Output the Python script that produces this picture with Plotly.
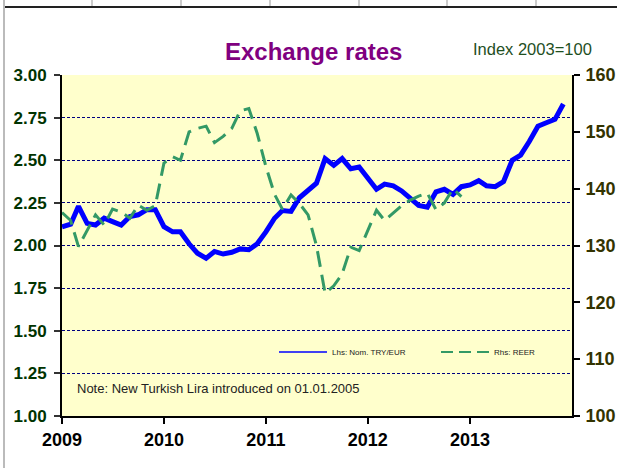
import plotly.graph_objects as go
import pandas as pd

# ---- data ----
months_try = pd.date_range("2009-01-01", periods=60, freq="MS")
try_eur = [2.11, 2.125, 2.23, 2.13, 2.12, 2.16, 2.14, 2.12, 2.17, 2.18, 2.21, 2.21,
           2.11, 2.08, 2.08, 2.01, 1.955, 1.925, 1.965, 1.95, 1.96, 1.98, 1.975, 2.01,
           2.08, 2.16, 2.205, 2.20, 2.28, 2.32, 2.365, 2.51, 2.47, 2.51, 2.45, 2.46,
           2.39, 2.33, 2.36, 2.35, 2.32, 2.28, 2.235, 2.225, 2.315, 2.33, 2.30, 2.345,
           2.355, 2.38, 2.35, 2.345, 2.375, 2.50, 2.53, 2.61, 2.70, 2.72, 2.74, 2.83]

months_reer = pd.date_range("2009-01-01", periods=48, freq="MS")
reer = [135.8, 134.4, 129.8, 132.6, 135.4, 133.6, 136.4, 135.9, 134.8, 137.1, 136.2, 137.0,
        144.5, 145.6, 145.0, 150.0, 150.6, 151.0, 148.1, 149.2, 150.6, 153.7, 154.1, 149.7,
        143.9, 139.0, 136.4, 138.9, 137.4, 135.4, 130.0, 121.6, 122.9, 125.0, 129.7, 129.1,
        132.5, 136.2, 134.4, 135.8, 137.0, 138.0, 138.7, 139.2, 136.3, 137.5, 140.0, 138.6]

year_ticks = ["2009-01-01", "2010-01-01", "2011-01-01", "2012-01-01", "2013-01-01"]
year_labels = ["2009", "2010", "2011", "2012", "2013"]
left_ticks = [1.00, 1.25, 1.50, 1.75, 2.00, 2.25, 2.50, 2.75, 3.00]
right_ticks = [100, 110, 120, 130, 140, 150, 160]

series_names = ["Lhs: Nom. TRY/EUR", "Rhs: REER"]
title_text = "Exchange rates"
index_text = "Index 2003=100"
note_text = "Note: New Turkish Lira introduced on 01.01.2005"

# ---- figure ----
W, H = 617, 468
L, R, T, B = 62, 45, 75, 52
PW, PH = W - L - R, H - T - B

def px(x):
    return (x - L) / PW

def py(y):
    return (H - B - y) / PH

BLUE = "#0000FF"
GREEN = "#339966"

fig = go.Figure()
fig.add_trace(go.Scatter(
    x=months_try, y=try_eur, name=series_names[0], mode="lines", showlegend=False,
    line=dict(color=BLUE, width=5), yaxis="y"))
fig.add_trace(go.Scatter(
    x=months_reer, y=reer, name=series_names[1], mode="lines", showlegend=False,
    line=dict(color=GREEN, width=3, dash="16px,8px"), yaxis="y2"))
# legend-only entries (thin line samples, like the reference legend)
fig.add_trace(go.Scatter(x=[None], y=[None], name=series_names[0], mode="lines",
                         line=dict(color=BLUE, width=1.5), yaxis="y"))
fig.add_trace(go.Scatter(x=[None], y=[None], name=series_names[1], mode="lines",
                         line=dict(color=GREEN, width=2, dash="12px,6px"), yaxis="y2"))

font_main = "Arial, Liberation Sans, sans-serif"

fig.update_layout(
    width=W, height=H,
    margin=dict(l=L, r=R, t=T, b=B, pad=0, autoexpand=False),
    paper_bgcolor="white",
    plot_bgcolor="#FFFFCC",
    font=dict(family=font_main),
    showlegend=True,
    legend=dict(orientation="h", x=px(274), y=py(352), xanchor="left", yanchor="middle",
                bgcolor="rgba(0,0,0,0)", font=dict(size=8, color="#222222"),
                itemwidth=48, entrywidth=99, tracegroupgap=0),
    xaxis=dict(type="date", range=["2009-01-01", "2014-01-01"],
               tickvals=year_ticks, ticktext=year_labels,
               showgrid=False, zeroline=False,
               showline=True, linecolor="black", linewidth=2, mirror=False,
               ticks="outside", ticklen=6, tickwidth=1.5, tickcolor="black",
               tickfont=dict(size=18, color="black", family=font_main, weight="bold")),
    yaxis=dict(range=[1, 3], tickvals=left_ticks,
               ticktext=[f"{v:.2f}" for v in left_ticks],
               showgrid=True, gridcolor="#000080", griddash="3px,2px", gridwidth=1,
               zeroline=False, showline=True, linecolor="black", linewidth=2,
               ticks="outside", ticklen=6, tickwidth=1.5, tickcolor="#333333",
               ticklabelstandoff=4,
               tickfont=dict(size=17, color="#003300", family=font_main, weight="bold")),
    yaxis2=dict(range=[100, 160], tickvals=right_ticks, overlaying="y", side="right",
                showgrid=False, zeroline=False, showline=True, linecolor="black", linewidth=2,
                ticks="outside", ticklen=6, tickwidth=1.5, tickcolor="black",
                ticklabelstandoff=2,
                tickfont=dict(size=18, color="#333300", family=font_main, weight="bold")),
)

fig.add_annotation(text=title_text, xref="paper", yref="paper", x=px(313), y=py(51),
                   xanchor="center", yanchor="middle", showarrow=False,
                   font=dict(size=24, color="#800080", family=font_main, weight="bold"))
fig.add_annotation(text=index_text, xref="paper", yref="paper", x=px(471), y=py(49),
                   xanchor="left", yanchor="middle", showarrow=False,
                   font=dict(size=16.5, color="#1F4F1F", family=font_main))
fig.add_annotation(text=note_text, xref="paper", yref="paper", x=px(75), y=py(388),
                   xanchor="left", yanchor="middle", showarrow=False,
                   font=dict(size=13, color="#222222", family=font_main))

# frame / spreadsheet decoration
shapes = []
shapes.append(dict(type="line", xref="paper", yref="paper", x0=px(4), x1=px(617), y0=py(7), y1=py(7),
                   line=dict(color="#222222", width=2)))
shapes.append(dict(type="line", xref="paper", yref="paper", x0=px(4), x1=px(4), y0=py(0), y1=py(468),
                   line=dict(color="#BBBBBB", width=2)))
for gx in [92, 181, 270, 359, 447, 536]:
    shapes.append(dict(type="line", xref="paper", yref="paper", x0=px(gx), x1=px(gx), y0=py(0), y1=py(6),
                       line=dict(color="#CCCCCC", width=2)))
fig.update_layout(shapes=shapes)

fig.write_html("out.html", config={"displayModeBar": False},
               post_script="document.body.style.margin='0px';")
